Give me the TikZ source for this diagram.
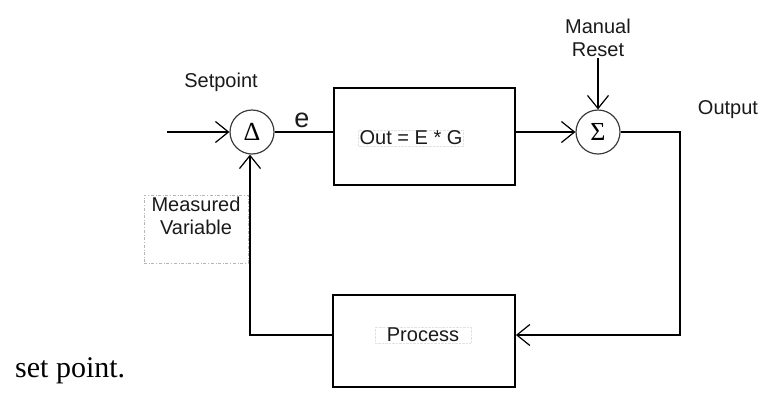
\documentclass[tikz,border=0pt]{standalone}
\usepackage{fontspec}
\setmainfont{Liberation Sans}
\newfontfamily\bodyserif{Liberation Serif}
\usepackage{tikz}
\usetikzlibrary{positioning, arrows.meta, calc}
\definecolor{ink}{HTML}{1A1A1A}
\definecolor{guide}{HTML}{B5B5B5}

\begin{document}
\begin{tikzpicture}[x=1pt, y=-1pt,
  lbl/.style={font=\fontsize{20}{23}\selectfont, text=ink, align=center, inner sep=1pt},
  blk/.style={draw=black, line width=1.8pt, rectangle},
  junc/.style={draw=ink!85, line width=1.2pt, circle, minimum size=44pt, inner sep=0pt,
               font=\bodyserif\fontsize{26}{26}\selectfont},
  wire/.style={line width=1.8pt},
  arr/.style={wire, -{Straight Barb[length=13pt, width=21pt, line width=1.2pt]}},
  faint/.style={draw=guide!40, densely dotted, line width=0.4pt}]
  \useasboundingbox (0,0) rectangle (759,405);
  % summing junctions
  \node[junc] (delta) at (252,132) {Δ};
  \node[junc] (sigma) at (598,132) {Σ};
  % blocks
  \node[blk, minimum width=181pt, minimum height=97pt] (gain) at (424.5,136.5) {};
  \node[lbl, faint] (gaintxt) at (411,138) {Out = E * G};
  \node[blk, minimum width=182pt, minimum height=92pt] (process) at (424,341) {};
  \node[lbl, faint, inner xsep=12pt] (proctxt) at (423,335) {Process};
  % labels
  \node[lbl] (setpoint) at (221,82) {Setpoint};
  \node[lbl, font=\fontsize{27}{27}\selectfont] (err) at (302,120) {e};
  \node[lbl, anchor=south] (reset) at (598,58) {Manual\\Reset};
  \node[lbl] (output) at (728,110) {Output};
  \node[draw=guide, dash dot, line width=0.6pt, minimum width=104pt, minimum height=68pt]
    (mvbox) at (196,229) {};
  \node[lbl, below=1pt of mvbox.north] (measured) {Measured\\Variable};
  \node[anchor=west, inner sep=0pt, font=\bodyserif\fontsize{30}{30}\selectfont]
    (caption) at (15,371) {set point.};
  % loose ends and corners
  \coordinate (spin) at (167,132);
  \coordinate (outcorner) at (680,335);
  \coordinate (fbcorner) at (250,335);
  % connectors
  \draw[arr] (spin) -- (delta.west);
  \draw[wire] (delta.east) -- (delta.east -| gain.west);
  \draw[arr] (sigma.west -| gain.east) -- (sigma.west);
  \draw[arr, line width=1.2pt] (reset.south) -- (sigma.north);
  \draw[arr] (sigma.east) -| (outcorner) -- (outcorner -| process.east);
  \draw[arr] (fbcorner -| process.west) -- (fbcorner) -- (fbcorner |- delta.south);
\end{tikzpicture}
\end{document}
